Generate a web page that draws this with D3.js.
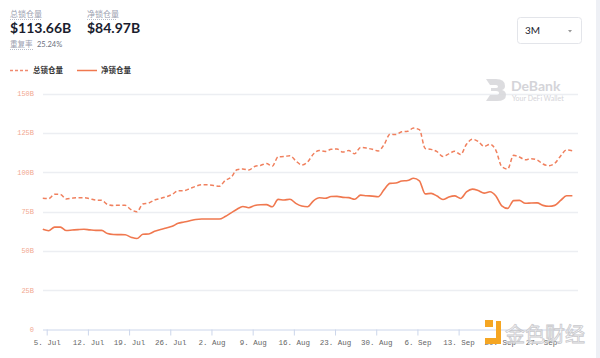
<!DOCTYPE html>
<html><head><meta charset="utf-8">
<script src="https://cdn.jsdelivr.net/npm/d3@7"></script>
<style>body{margin:0;background:#fff;}svg{display:block;}</style>
</head><body>
<svg id="c" width="600" height="358"></svg>
<script>
const totalTVL = [83.4,83.2,86.0,85.8,83.0,83.5,83.8,83.8,83.1,82.3,82.1,79.5,78.8,79.0,78.9,76.2,74.8,79.8,80.4,82.3,83.3,84.4,85.9,88.2,88.2,89.6,91.0,92.0,92.0,91.6,91.0,94.7,96.7,101.5,102.0,101.3,103.6,104.3,105.5,103.8,109.8,109.9,110.5,107.2,104.6,106.5,111.5,113.8,113.2,114.5,114.7,112.8,113.7,111.7,115.7,115.3,114.5,113.5,117.5,124.1,123.9,125.7,126.0,128.0,127.0,115.0,114.5,113.0,110.0,111.6,113.3,111.2,117.7,120.9,119.5,116.4,117.7,113.9,103.5,102.0,110.7,109.6,107.9,108.6,107.8,105.2,104.1,105.6,110.3,114.1,113.66];
const netTVL = [63.7,62.8,65.1,65.1,62.9,63.2,63.5,63.7,63.3,63.0,63.0,61.0,60.4,60.3,60.2,58.7,57.8,60.5,60.7,62.4,63.5,64.5,65.6,67.5,68.3,69.1,69.9,70.2,70.2,70.2,70.2,71.8,74.1,76.4,78.2,77.4,78.8,79.3,79.4,78.0,82.7,82.3,82.8,80.2,78.5,78.0,81.8,83.7,83.4,84.5,84.6,84.0,83.8,82.8,85.4,85.0,84.8,84.4,88.9,92.9,93.1,94.4,94.7,96.1,94.5,86.2,86.5,84.8,82.6,84.2,84.9,83.3,87.4,89.2,88.3,86.7,87.6,84.9,78.6,77.0,81.9,82.1,80.2,80.4,80.5,78.9,78.3,78.9,82.0,85.0,84.97];
const yTicks = [0,25,50,75,100,125,150];
const yTickLabels = ["0","25B","50B","75B","100B","125B","150B"];
const xTickLabels = ["5. Jul","12. Jul","19. Jul","26. Jul","2. Aug","9. Aug","16. Aug","23. Aug","30. Aug","6. Sep","13. Sep","20. Sep","27. Sep"];
const seriesNames = ["总锁仓量","净锁仓量"];
const headline = {total:"$113.66B", net:"$84.97B", dupLabel:"重复率", dup:"25.24%"};
const rangeLabel = "3M";

const startDate = new Date(2021,6,4,8);
const dates = totalTVL.map((d,i)=>d3.timeDay.offset(startDate,i));
const tickDates = xTickLabels.map((d,i)=>d3.timeDay.offset(new Date(2021,6,5),7*i));

const svg = d3.select("#c");
const x = d3.scaleTime().domain([new Date(2021,6,5), new Date(2021,8,27)]).range([46.7,541]);
const y = d3.scaleLinear().domain([0,150]).range([329.5,93.5]);
const color = "#f0784f";
const cjk = "'Noto Sans CJK SC', sans-serif";

// right strip
svg.append("rect").attr("x",596).attr("y",0).attr("width",4).attr("height",358).attr("fill","#eef0f5");

// header
const hdr = svg.append("g");
hdr.append("text").attr("x",10).attr("y",17).attr("font-family",cjk).attr("font-size",8).attr("fill","#9aa0b0").text(seriesNames[0]);
hdr.append("line").attr("x1",10).attr("x2",42).attr("y1",19.5).attr("y2",19.5).attr("stroke","#b8bdc9").attr("stroke-dasharray","1,1");
hdr.append("text").attr("x",10).attr("y",33).attr("font-family","Lato, sans-serif").attr("font-weight","bold").attr("font-size",14).attr("fill","#1a1d2e").text(headline.total);
hdr.append("text").attr("x",87).attr("y",17).attr("font-family",cjk).attr("font-size",8).attr("fill","#9aa0b0").text(seriesNames[1]);
hdr.append("line").attr("x1",87).attr("x2",117).attr("y1",19.5).attr("y2",19.5).attr("stroke","#b8bdc9").attr("stroke-dasharray","1,1");
hdr.append("text").attr("x",87).attr("y",33).attr("font-family","Lato, sans-serif").attr("font-weight","bold").attr("font-size",14).attr("fill","#1a1d2e").text(headline.net);
hdr.append("text").attr("x",10).attr("y",47).attr("font-family",cjk).attr("font-size",7.5).attr("fill","#9aa0b0").text(headline.dupLabel);
hdr.append("line").attr("x1",10).attr("x2",33).attr("y1",49.5).attr("y2",49.5).attr("stroke","#b8bdc9").attr("stroke-dasharray","1,1");
hdr.append("text").attr("x",37).attr("y",47).attr("font-family","Lato, sans-serif").attr("font-size",7.5).attr("fill","#6b7080").text(headline.dup);

// dropdown
svg.append("rect").attr("x",517.5).attr("y",17.5).attr("width",64).attr("height",26).attr("rx",3).attr("fill","#fff").attr("stroke","#e3e5ea");
svg.append("text").attr("x",525).attr("y",34).attr("font-family","Lato, sans-serif").attr("font-size",10).attr("fill","#1a1d2e").text(rangeLabel);
svg.append("path").attr("d","M568,30 L572,30 L570,32.5 Z").attr("fill","#999");

// legend
const lg = svg.append("g");
lg.append("line").attr("x1",10).attr("x2",29).attr("y1",70.5).attr("y2",70.5).attr("stroke","#f08a70").attr("stroke-width",1.5).attr("stroke-dasharray","3,2");
lg.append("text").attr("x",33).attr("y",73).attr("font-family",cjk).attr("font-size",7.5).attr("font-weight","bold").attr("fill","#333").text(seriesNames[0]);
lg.append("line").attr("x1",77).attr("x2",97).attr("y1",70.5).attr("y2",70.5).attr("stroke",color).attr("stroke-width",1.5);
lg.append("text").attr("x",101).attr("y",73).attr("font-family",cjk).attr("font-size",7.5).attr("font-weight","bold").attr("fill","#333").text(seriesNames[1]);

// gridlines
svg.append("g").selectAll("line").data(yTicks.filter(d=>d>0)).join("line")
  .attr("x1",43).attr("x2",578).attr("y1",d=>Math.round(y(d))+0.5).attr("y2",d=>Math.round(y(d))+0.5)
  .attr("stroke","#eceef2").attr("stroke-width",1.5);

// DeBank watermark
const wm = svg.append("g").attr("opacity",0.9);
wm.append("path").attr("d","M486,79 L496,79 Q505,79 505,86 Q505,89 502,90 Q506,91 506,95 Q506,101 497,101 L486,101 L490,95 L496,95 Q499,95 499,93 Q499,91 496,91 L491,91 L491,88 L496,88 Q498,88 498,86.5 Q498,85 496,85 L490,85 Z").attr("fill","#d8d8dc");
wm.append("text").attr("x",511).attr("y",91).attr("font-family","Lato, sans-serif").attr("font-weight","bold").attr("font-size",14).attr("fill","#d0d0d5").text("DeBank");
wm.append("text").attr("x",512).attr("y",101).attr("font-family","Lato, sans-serif").attr("font-size",7).attr("fill","#d0d0d5").text("Your DeFi Wallet");

// y labels
svg.append("g").selectAll("text").data(yTicks).join("text")
  .attr("x",34).attr("y",d=>y(d)+2.5).attr("text-anchor","end")
  .attr("font-family","'Liberation Mono', monospace").attr("font-size",7).attr("fill","#f2a890")
  .text((d,i)=>yTickLabels[i]);

// x axis
const xAxis = d3.axisBottom(x).tickValues(tickDates).tickSize(6).tickFormat((d,i)=>xTickLabels[i]);
const xg = svg.append("g").attr("transform","translate(0,329.5)").call(xAxis);
xg.select(".domain").attr("d","M43,0.5H578").attr("stroke","#ccd6eb");
xg.selectAll(".tick line").attr("stroke","#ccd6eb");
xg.selectAll(".tick text").attr("font-family","'Liberation Mono', monospace").attr("font-size",7.5).attr("fill","#666").attr("dy","0.9em");

// lines
const line = d3.line().x((d,i)=>x(dates[i])).y(d=>y(d)).curve(d3.curveMonotoneX);
svg.append("path").datum(totalTVL).attr("d",line).attr("fill","none").attr("stroke","#f0805e").attr("stroke-width",1.5).attr("stroke-dasharray","4,2.5");
svg.append("path").datum(netTVL).attr("d",line).attr("fill","none").attr("stroke",color).attr("stroke-width",1.6);

// 金色财经 watermark
const jw = svg.append("g");
jw.append("rect").attr("x",485).attr("y",320).attr("width",8).attr("height",7).attr("fill","#f5a623");
jw.append("rect").attr("x",496).attr("y",321).attr("width",5).attr("height",23).attr("fill","#f5a623");
jw.append("rect").attr("x",485).attr("y",338).attr("width",13).attr("height",6).attr("fill","#f5a623");
jw.append("text").attr("x",505).attr("y",342).attr("font-family",cjk).attr("font-size",20).attr("fill","#fff").attr("fill-opacity",0.6).attr("stroke","#c8c8cc").attr("stroke-width",0.8).text("金色财经");
</script>
</body></html>
